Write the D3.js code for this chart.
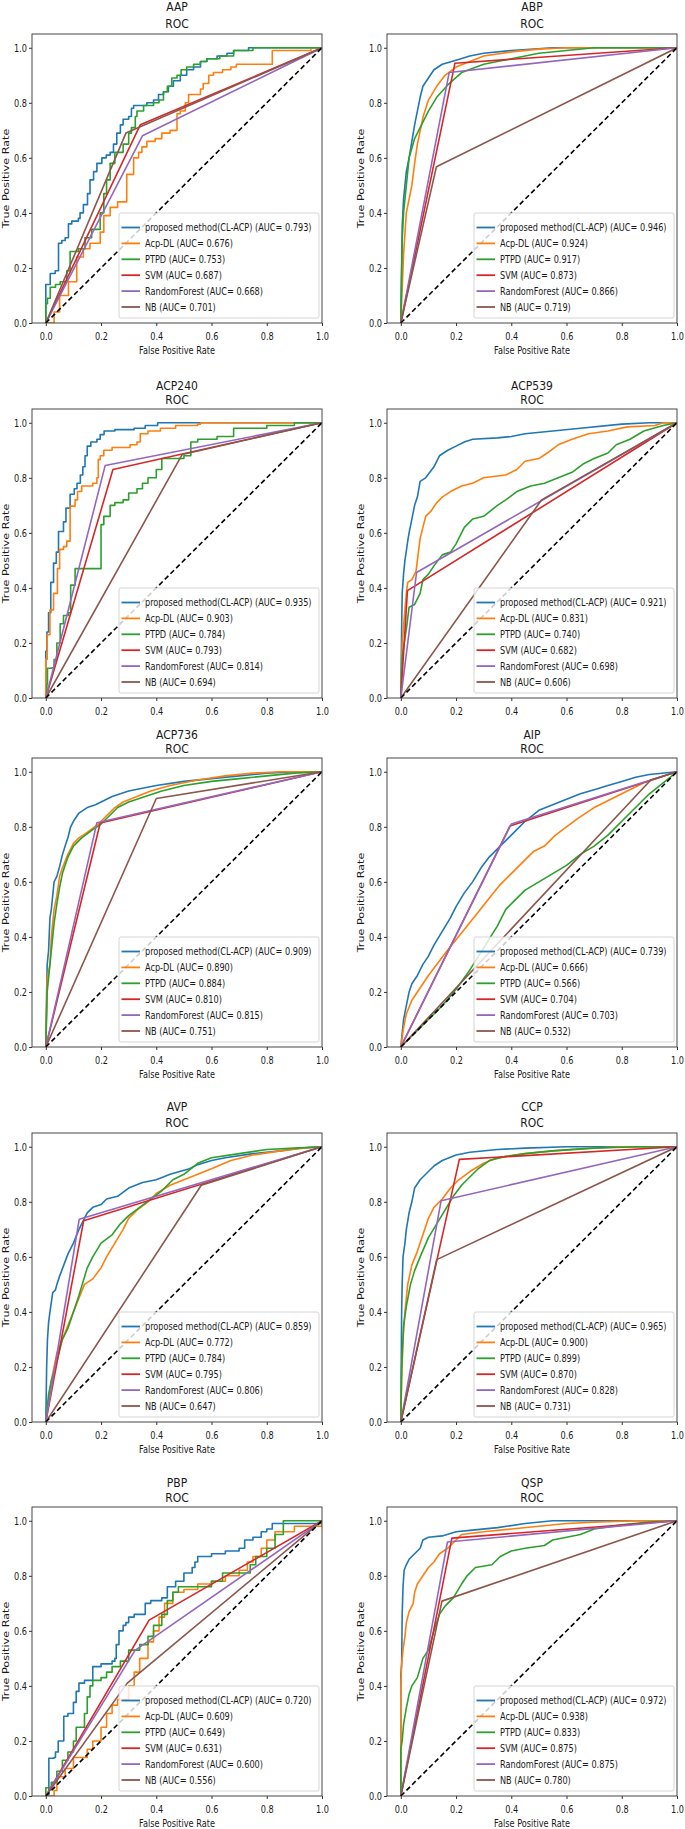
<!DOCTYPE html>
<html>
<head>
<meta charset="utf-8">
<script src="https://cdn.jsdelivr.net/npm/d3@7"></script>
<style>
  body { margin: 0; background: #fff; }
  svg text { font-family: "DejaVu Sans", sans-serif; fill: #1a1a1a; }
</style>
</head>
<body>
<div id="chart"></div>
<script>
// ROC curves of six methods on ten peptide datasets
const datasets = ["AAP", "ABP", "ACP240", "ACP539", "ACP736", "AIP", "AVP", "CCP", "PBP", "QSP"];
const methods = ["proposed method(CL-ACP)", "Acp-DL", "PTPD", "SVM", "RandomForest", "NB"];
const colors = ["#1f77b4", "#ff7f0e", "#2ca02c", "#d62728", "#9467bd", "#8c564b"];
const xTicks = [0, 0.2, 0.4, 0.6, 0.8, 1.0];
const yTicks = [0, 0.2, 0.4, 0.6, 0.8, 1.0];
// small datasets whose curves show a visible staircase
const stepSets = ["AAP", "ACP240", "PBP"];

const aucAAP = [0.793, 0.676, 0.753, 0.687, 0.668, 0.701];
const aucABP = [0.946, 0.924, 0.917, 0.873, 0.866, 0.719];
const aucACP240 = [0.935, 0.903, 0.784, 0.793, 0.814, 0.694];
const aucACP539 = [0.921, 0.831, 0.740, 0.682, 0.698, 0.606];
const aucACP736 = [0.909, 0.890, 0.884, 0.810, 0.815, 0.751];
const aucAIP = [0.739, 0.666, 0.566, 0.704, 0.703, 0.532];
const aucAVP = [0.859, 0.772, 0.784, 0.795, 0.806, 0.647];
const aucCCP = [0.965, 0.900, 0.899, 0.870, 0.828, 0.731];
const aucPBP = [0.720, 0.609, 0.649, 0.631, 0.600, 0.556];
const aucQSP = [0.972, 0.938, 0.833, 0.875, 0.875, 0.780];

// [fpr, tpr] points, one list per method (same order as `methods`)
const rocAAP = [
  [[0,0],[0,0.14],[0.016,0.18],[0.034,0.19],[0.046,0.29],[0.058,0.30],[0.07,0.31],[0.082,0.36],[0.094,0.37],[0.118,0.38],[0.124,0.40],[0.136,0.43],[0.151,0.47],[0.16,0.52],[0.173,0.55],[0.185,0.58],[0.203,0.60],[0.219,0.61],[0.233,0.62],[0.245,0.65],[0.257,0.69],[0.27,0.72],[0.28,0.74],[0.30,0.75],[0.31,0.78],[0.318,0.79],[0.366,0.80],[0.39,0.81],[0.408,0.83],[0.426,0.84],[0.444,0.86],[0.462,0.88],[0.487,0.90],[0.51,0.92],[0.535,0.93],[0.56,0.95],[0.583,0.96],[0.62,0.97],[0.656,0.98],[0.68,0.99],[0.734,1.0],[1,1]],
  [[0,0],[0.03,0],[0.03,0.04],[0.05,0.1],[0.082,0.15],[0.112,0.24],[0.136,0.27],[0.16,0.29],[0.197,0.33],[0.21,0.39],[0.233,0.42],[0.26,0.44],[0.293,0.54],[0.318,0.60],[0.336,0.62],[0.348,0.64],[0.366,0.66],[0.396,0.67],[0.42,0.69],[0.45,0.70],[0.475,0.76],[0.487,0.77],[0.505,0.80],[0.517,0.83],[0.56,0.85],[0.57,0.87],[0.59,0.90],[0.607,0.91],[0.64,0.92],[0.67,0.93],[0.69,0.94],[0.82,0.99],[0.96,0.99],[0.96,1.0],[1,1]],
  [[0,0],[0,0.07],[0.006,0.09],[0.016,0.13],[0.035,0.14],[0.052,0.15],[0.076,0.19],[0.088,0.26],[0.118,0.27],[0.142,0.31],[0.166,0.34],[0.197,0.40],[0.21,0.47],[0.22,0.52],[0.233,0.58],[0.25,0.62],[0.28,0.65],[0.30,0.69],[0.31,0.71],[0.324,0.75],[0.33,0.77],[0.354,0.79],[0.39,0.80],[0.41,0.81],[0.426,0.84],[0.44,0.86],[0.456,0.89],[0.475,0.90],[0.49,0.92],[0.51,0.93],[0.535,0.94],[0.56,0.95],[0.583,0.96],[0.63,0.97],[0.68,0.99],[0.75,1.0],[1,1]],
  [[0,0],[0.342,0.72],[1,1]],
  [[0,0],[0.35,0.68],[1,1]],
  [[0,0],[0.29,0.69],[1,1]]
];
const rocABP = [
  [[0,0],[0.005,0.35],[0.01,0.45],[0.02,0.55],[0.03,0.6],[0.04,0.66],[0.05,0.72],[0.06,0.77],[0.07,0.82],[0.08,0.86],[0.1,0.89],[0.12,0.92],[0.15,0.94],[0.2,0.955],[0.25,0.97],[0.3,0.98],[0.4,0.99],[0.55,1.0],[1,1]],
  [[0,0],[0.01,0.25],[0.02,0.4],[0.04,0.5],[0.05,0.58],[0.06,0.65],[0.081,0.75],[0.1,0.81],[0.13,0.86],[0.16,0.9],[0.2,0.93],[0.25,0.95],[0.3,0.97],[0.4,0.985],[0.5,0.995],[0.6,1.0],[1,1]],
  [[0,0],[0.005,0.3],[0.01,0.4],[0.02,0.5],[0.03,0.6],[0.05,0.67],[0.07,0.71],[0.1,0.77],[0.13,0.82],[0.17,0.865],[0.22,0.91],[0.3,0.94],[0.4,0.96],[0.5,0.98],[0.6,0.99],[0.7,1.0],[1,1]],
  [[0,0],[0.196,0.944],[1,1]],
  [[0,0],[0.175,0.91],[1,1]],
  [[0,0],[0.129,0.568],[1,1]]
];
const rocACP240 = [
  [[0,0],[0,0.17],[0.004,0.24],[0.01,0.31],[0.018,0.42],[0.028,0.49],[0.038,0.53],[0.046,0.605],[0.064,0.64],[0.073,0.69],[0.088,0.74],[0.103,0.76],[0.113,0.78],[0.125,0.81],[0.134,0.84],[0.142,0.88],[0.15,0.915],[0.163,0.93],[0.185,0.94],[0.197,0.957],[0.211,0.97],[0.25,0.975],[0.32,0.98],[0.36,0.99],[0.405,1.0],[1,1]],
  [[0,0],[0,0.14],[0.005,0.23],[0.015,0.32],[0.028,0.38],[0.042,0.47],[0.05,0.54],[0.064,0.55],[0.076,0.57],[0.088,0.697],[0.106,0.72],[0.115,0.75],[0.13,0.77],[0.17,0.78],[0.185,0.80],[0.19,0.866],[0.197,0.88],[0.21,0.90],[0.24,0.91],[0.305,0.92],[0.33,0.93],[0.342,0.96],[0.37,0.97],[0.415,0.98],[0.47,0.99],[0.55,0.995],[0.56,1.0],[1,1]],
  [[0,0],[0.004,0.05],[0.006,0.108],[0.022,0.11],[0.03,0.14],[0.04,0.2],[0.052,0.27],[0.064,0.30],[0.082,0.31],[0.09,0.41],[0.106,0.47],[0.2,0.49],[0.2,0.63],[0.21,0.66],[0.233,0.70],[0.25,0.71],[0.28,0.72],[0.3,0.745],[0.33,0.76],[0.35,0.78],[0.37,0.80],[0.4,0.83],[0.42,0.87],[0.5,0.88],[0.525,0.93],[0.55,0.94],[0.62,0.95],[0.68,0.98],[0.8,0.99],[0.9,1.0],[1,1]],
  [[0,0],[0.243,0.83],[1,1]],
  [[0,0],[0.215,0.845],[1,1]],
  [[0,0],[0.494,0.885],[1,1]]
];
const rocACP539 = [
  [[0,0],[0.003,0.25],[0.005,0.38],[0.01,0.45],[0.015,0.5],[0.025,0.57],[0.03,0.6],[0.04,0.65],[0.05,0.7],[0.06,0.73],[0.07,0.787],[0.09,0.8],[0.12,0.84],[0.14,0.88],[0.17,0.9],[0.2,0.915],[0.23,0.93],[0.26,0.94],[0.35,0.945],[0.4,0.95],[0.45,0.96],[0.55,0.97],[0.65,0.98],[0.8,0.995],[0.9,1.0],[1,1]],
  [[0,0],[0.005,0.2],[0.02,0.38],[0.025,0.42],[0.04,0.43],[0.055,0.46],[0.06,0.5],[0.07,0.58],[0.08,0.62],[0.09,0.66],[0.11,0.68],[0.13,0.71],[0.15,0.73],[0.18,0.75],[0.22,0.77],[0.26,0.78],[0.3,0.8],[0.38,0.81],[0.42,0.83],[0.45,0.86],[0.5,0.87],[0.53,0.89],[0.57,0.92],[0.62,0.94],[0.68,0.96],[0.75,0.97],[0.82,0.985],[0.92,0.99],[0.95,1.0],[1,1]],
  [[0,0],[0.005,0.15],[0.02,0.25],[0.03,0.33],[0.05,0.34],[0.07,0.38],[0.08,0.43],[0.1,0.45],[0.12,0.48],[0.15,0.52],[0.18,0.53],[0.2,0.56],[0.23,0.62],[0.26,0.65],[0.3,0.66],[0.35,0.7],[0.38,0.72],[0.42,0.75],[0.47,0.77],[0.52,0.78],[0.57,0.8],[0.62,0.82],[0.66,0.85],[0.7,0.87],[0.75,0.89],[0.78,0.92],[0.83,0.94],[0.88,0.97],[0.95,0.99],[1,1]],
  [[0,0],[0.024,0.39],[1,1]],
  [[0,0],[0.057,0.456],[1,1]],
  [[0,0],[0.51,0.72],[1,1]]
];
const rocACP736 = [
  [[0,0],[0.003,0.2],[0.005,0.3],[0.01,0.35],[0.015,0.47],[0.02,0.5],[0.03,0.6],[0.04,0.62],[0.05,0.656],[0.06,0.698],[0.07,0.73],[0.08,0.76],[0.09,0.8],[0.1,0.82],[0.12,0.85],[0.15,0.87],[0.18,0.88],[0.2,0.89],[0.24,0.91],[0.3,0.93],[0.35,0.94],[0.4,0.95],[0.5,0.965],[0.6,0.975],[0.7,0.985],[0.8,0.995],[0.9,1.0],[1,1]],
  [[0,0],[0.005,0.25],[0.015,0.3],[0.02,0.4],[0.03,0.5],[0.04,0.55],[0.05,0.62],[0.06,0.65],[0.08,0.7],[0.1,0.74],[0.12,0.76],[0.15,0.78],[0.19,0.81],[0.22,0.84],[0.25,0.87],[0.28,0.89],[0.33,0.91],[0.38,0.93],[0.45,0.95],[0.55,0.97],[0.65,0.985],[0.75,0.995],[0.85,1.0],[1,1]],
  [[0,0],[0.005,0.2],[0.01,0.25],[0.02,0.35],[0.03,0.45],[0.04,0.52],[0.05,0.58],[0.06,0.63],[0.08,0.69],[0.1,0.73],[0.13,0.76],[0.17,0.79],[0.2,0.81],[0.23,0.84],[0.26,0.87],[0.3,0.89],[0.36,0.91],[0.42,0.93],[0.5,0.95],[0.6,0.965],[0.7,0.975],[0.8,0.985],[0.9,0.995],[1,1]],
  [[0,0],[0.197,0.814],[1,1]],
  [[0,0],[0.185,0.815],[1,1]],
  [[0,0],[0.4,0.903],[1,1]]
];
const rocAIP = [
  [[0,0],[0.005,0.05],[0.01,0.1],[0.02,0.15],[0.03,0.2],[0.04,0.23],[0.06,0.26],[0.08,0.3],[0.1,0.33],[0.12,0.37],[0.15,0.42],[0.18,0.47],[0.2,0.51],[0.23,0.56],[0.26,0.6],[0.29,0.65],[0.32,0.69],[0.36,0.73],[0.39,0.76],[0.42,0.79],[0.45,0.82],[0.5,0.86],[0.55,0.88],[0.6,0.9],[0.65,0.92],[0.7,0.935],[0.75,0.95],[0.8,0.965],[0.85,0.98],[0.9,0.99],[1,1]],
  [[0,0],[0.01,0.07],[0.02,0.12],[0.04,0.17],[0.06,0.2],[0.08,0.23],[0.1,0.26],[0.13,0.3],[0.16,0.34],[0.2,0.39],[0.24,0.44],[0.28,0.49],[0.32,0.54],[0.36,0.59],[0.4,0.63],[0.44,0.67],[0.48,0.71],[0.52,0.73],[0.56,0.77],[0.6,0.8],[0.64,0.83],[0.7,0.87],[0.76,0.9],[0.82,0.93],[0.88,0.96],[0.94,0.98],[1,1]],
  [[0,0],[0.05,0.05],[0.1,0.1],[0.15,0.15],[0.2,0.21],[0.25,0.28],[0.3,0.36],[0.35,0.44],[0.38,0.5],[0.42,0.54],[0.45,0.57],[0.5,0.6],[0.55,0.63],[0.6,0.66],[0.65,0.7],[0.7,0.73],[0.75,0.77],[0.8,0.82],[0.85,0.87],[0.9,0.92],[0.95,0.96],[1,1]],
  [[0,0],[0.395,0.803],[1,1]],
  [[0,0],[0.4,0.81],[1,1]],
  [[0,0],[0.905,0.97],[1,1]]
];
const rocAVP = [
  [[0,0],[0.003,0.2],[0.006,0.3],[0.01,0.36],[0.015,0.4],[0.025,0.47],[0.035,0.48],[0.04,0.5],[0.05,0.53],[0.065,0.57],[0.08,0.61],[0.1,0.65],[0.12,0.7],[0.15,0.76],[0.17,0.78],[0.2,0.79],[0.22,0.81],[0.26,0.82],[0.3,0.85],[0.35,0.87],[0.4,0.88],[0.45,0.9],[0.52,0.92],[0.55,0.935],[0.6,0.95],[0.65,0.96],[0.75,0.975],[0.85,0.985],[0.92,0.995],[1,1]],
  [[0,0],[0.01,0.08],[0.02,0.15],[0.04,0.25],[0.06,0.3],[0.08,0.35],[0.1,0.4],[0.12,0.45],[0.14,0.5],[0.17,0.52],[0.2,0.56],[0.22,0.6],[0.25,0.65],[0.28,0.7],[0.3,0.74],[0.33,0.77],[0.37,0.8],[0.4,0.83],[0.45,0.86],[0.5,0.88],[0.55,0.9],[0.6,0.92],[0.67,0.95],[0.75,0.97],[0.85,0.985],[0.93,0.995],[1,1]],
  [[0,0],[0.01,0.1],[0.02,0.15],[0.04,0.22],[0.06,0.3],[0.08,0.34],[0.1,0.4],[0.12,0.46],[0.15,0.56],[0.17,0.6],[0.2,0.65],[0.24,0.68],[0.27,0.72],[0.3,0.75],[0.34,0.78],[0.38,0.81],[0.42,0.84],[0.46,0.88],[0.5,0.9],[0.55,0.94],[0.6,0.96],[0.7,0.975],[0.8,0.99],[0.9,0.995],[1,1]],
  [[0,0],[0.137,0.731],[1,1]],
  [[0,0],[0.121,0.737],[1,1]],
  [[0,0],[0.563,0.86],[1,1]]
];
const rocCCP = [
  [[0,0],[0.003,0.4],[0.005,0.5],[0.008,0.6],[0.015,0.65],[0.02,0.7],[0.03,0.76],[0.04,0.8],[0.05,0.85],[0.07,0.88],[0.09,0.9],[0.12,0.93],[0.15,0.95],[0.2,0.97],[0.25,0.98],[0.35,0.99],[0.45,0.995],[0.6,1.0],[1,1]],
  [[0,0],[0.003,0.15],[0.008,0.3],[0.015,0.4],[0.025,0.5],[0.04,0.57],[0.06,0.62],[0.08,0.68],[0.1,0.74],[0.12,0.78],[0.15,0.81],[0.18,0.85],[0.21,0.88],[0.25,0.91],[0.3,0.94],[0.35,0.96],[0.45,0.975],[0.55,0.985],[0.65,0.993],[0.8,1.0],[1,1]],
  [[0,0],[0.003,0.2],[0.01,0.35],[0.02,0.42],[0.035,0.5],[0.05,0.55],[0.07,0.6],[0.1,0.67],[0.13,0.72],[0.16,0.77],[0.19,0.82],[0.22,0.86],[0.25,0.89],[0.28,0.92],[0.32,0.95],[0.38,0.965],[0.45,0.975],[0.55,0.985],[0.7,0.995],[0.85,1.0],[1,1]],
  [[0,0],[0.212,0.954],[1,1]],
  [[0,0],[0.146,0.804],[1,1]],
  [[0,0],[0.13,0.59],[1,1]]
];
const rocPBP = [
  [[0,0],[0.011,0.137],[0.03,0.14],[0.035,0.16],[0.045,0.2],[0.065,0.29],[0.08,0.3],[0.1,0.34],[0.11,0.38],[0.12,0.41],[0.14,0.42],[0.17,0.47],[0.2,0.48],[0.24,0.49],[0.25,0.5],[0.255,0.55],[0.265,0.6],[0.28,0.62],[0.29,0.63],[0.3,0.65],[0.32,0.66],[0.36,0.7],[0.38,0.71],[0.42,0.72],[0.44,0.76],[0.47,0.78],[0.5,0.81],[0.53,0.83],[0.54,0.85],[0.55,0.87],[0.6,0.88],[0.65,0.89],[0.7,0.9],[0.72,0.93],[0.75,0.94],[0.78,0.96],[0.8,0.97],[0.82,0.99],[0.94,0.99],[1,1]],
  [[0,0],[0.03,0.02],[0.04,0.07],[0.07,0.1],[0.1,0.14],[0.14,0.14],[0.15,0.17],[0.17,0.2],[0.2,0.25],[0.22,0.3],[0.24,0.33],[0.26,0.35],[0.3,0.4],[0.32,0.45],[0.34,0.5],[0.37,0.56],[0.39,0.6],[0.41,0.65],[0.43,0.7],[0.46,0.74],[0.5,0.75],[0.55,0.77],[0.6,0.78],[0.65,0.8],[0.7,0.82],[0.73,0.85],[0.75,0.87],[0.78,0.9],[0.8,0.93],[0.83,0.96],[0.9,0.98],[1,1]],
  [[0,0],[0,0.03],[0.02,0.05],[0.04,0.09],[0.06,0.13],[0.08,0.16],[0.1,0.2],[0.11,0.25],[0.14,0.3],[0.15,0.36],[0.16,0.4],[0.17,0.42],[0.2,0.43],[0.22,0.45],[0.24,0.47],[0.27,0.49],[0.3,0.53],[0.34,0.55],[0.37,0.58],[0.39,0.62],[0.42,0.66],[0.44,0.71],[0.46,0.74],[0.48,0.76],[0.6,0.78],[0.64,0.81],[0.74,0.84],[0.76,0.87],[0.8,0.9],[0.83,0.95],[0.86,1.0],[1,1]],
  [[0,0],[0.374,0.639],[1,1]],
  [[0,0],[0.323,0.529],[1,1]],
  [[0,0],[0.295,0.41],[1,1]]
];
const rocQSP = [
  [[0,0],[0,0.44],[0.003,0.48],[0.005,0.66],[0.008,0.76],[0.012,0.82],[0.02,0.84],[0.03,0.86],[0.05,0.88],[0.07,0.9],[0.08,0.93],[0.1,0.94],[0.15,0.945],[0.2,0.96],[0.25,0.965],[0.35,0.975],[0.45,0.99],[0.55,1.0],[1,1]],
  [[0,0],[0,0.4],[0.003,0.48],[0.008,0.53],[0.015,0.58],[0.02,0.63],[0.03,0.67],[0.045,0.7],[0.05,0.74],[0.06,0.77],[0.08,0.8],[0.1,0.83],[0.12,0.85],[0.14,0.88],[0.17,0.9],[0.2,0.93],[0.22,0.95],[0.3,0.96],[0.4,0.97],[0.5,0.98],[0.6,0.99],[0.7,0.995],[0.85,1.0],[1,1]],
  [[0,0],[0,0.17],[0.005,0.2],[0.01,0.26],[0.02,0.32],[0.03,0.37],[0.04,0.4],[0.06,0.43],[0.08,0.5],[0.1,0.53],[0.12,0.6],[0.14,0.66],[0.16,0.69],[0.19,0.72],[0.22,0.77],[0.24,0.8],[0.27,0.83],[0.33,0.84],[0.36,0.87],[0.4,0.89],[0.45,0.9],[0.52,0.91],[0.55,0.93],[0.6,0.94],[0.65,0.95],[0.7,0.97],[0.8,0.985],[0.9,0.995],[1,1]],
  [[0,0],[0.185,0.937],[1,1]],
  [[0,0],[0.169,0.923],[1,1]],
  [[0,0],[0.149,0.708],[1,1]]
];

const rocs = [rocAAP, rocABP, rocACP240, rocACP539, rocACP736, rocAIP, rocAVP, rocCCP, rocPBP, rocQSP];
const aucs = [aucAAP, aucABP, aucACP240, aucACP539, aucACP736, aucAIP, aucAVP, aucCCP, aucPBP, aucQSP];

// layout of the stitched 2 x 5 grid
const SX = 0.73;                 // the original figures were squeezed horizontally
const TITLE_SX = 0.9;
const FONT = 11.2;
const TITLE_FONT = 12;
const rowY0 = [323, 698, 1047, 1422, 1796];
const rowTitleY = [[6.7, 23.8], [385.4, 399.6], [734.6, 748.8], [1107, 1122.8], [1483, 1497.3]];
const rowXLabel = [true, false, true, true, true];   // second row was cropped without its x label
const colLeft = [32, 387];
const plotW = 290, plotH = 289;

const svg = d3.select("#chart").append("svg")
    .attr("width", 685)
    .attr("height", 1829);

function squeezed(g, x, y, str, size, anchor, sx) {
    return g.append("text")
        .attr("transform", `translate(${x},${y}) scale(${sx || SX},1)`)
        .attr("text-anchor", anchor || "middle")
        .attr("dominant-baseline", "central")
        .style("font-size", size + "px")
        .text(str);
}

datasets.forEach((name, i) => {
    const row = Math.floor(i / 2), col = i % 2;
    const left = colLeft[col], y0 = rowY0[row], top = y0 - plotH;

    const x = d3.scaleLinear().domain([-0.05, 1.0]).range([left, left + plotW]);
    const y = d3.scaleLinear().domain([0, 1.05]).range([y0, top]);
    const g = svg.append("g");

    // two-line title
    squeezed(g, left + plotW / 2, rowTitleY[row][0], name, TITLE_FONT, "middle", TITLE_SX);
    squeezed(g, left + plotW / 2, rowTitleY[row][1], "ROC", TITLE_FONT, "middle", TITLE_SX);

    const clipId = "clip" + i;
    g.append("clipPath").attr("id", clipId)
        .append("rect").attr("x", left).attr("y", top).attr("width", plotW).attr("height", plotH);
    const plot = g.append("g").attr("clip-path", `url(#${clipId})`);

    const step = stepSets.includes(name);
    rocs[i].forEach((pts, k) => {
        const line = d3.line()
            .x(d => x(d[0]))
            .y(d => y(d[1]))
            .curve(step && k < 3 ? d3.curveStepAfter : d3.curveLinear);
        plot.append("path")
            .datum(pts)
            .attr("d", line)
            .attr("fill", "none")
            .attr("stroke", colors[k])
            .attr("stroke-width", 1.6)
            .attr("stroke-linejoin", "round");
    });

    // chance line
    plot.append("line")
        .attr("x1", x(0)).attr("y1", y(0))
        .attr("x2", x(1)).attr("y2", y(1))
        .attr("stroke", "#000")
        .attr("stroke-width", 1.6)
        .attr("stroke-dasharray", "5,3");

    // axes
    const xa = g.append("g")
        .attr("transform", `translate(0,${y0})`)
        .call(d3.axisBottom(x).tickValues(xTicks).tickFormat(d3.format(".1f")).tickSize(3).tickSizeOuter(0));
    xa.select(".domain").remove();
    xa.selectAll("line").attr("stroke", "#333");
    xa.selectAll("text")
        .attr("transform", `scale(${SX},1)`)
        .attr("y", 13).attr("dy", null)
        .attr("dominant-baseline", "central")
        .attr("fill", "#1a1a1a")
        .style("font-size", FONT + "px");

    const ya = g.append("g")
        .attr("transform", `translate(${left},0)`)
        .call(d3.axisLeft(y).tickValues(yTicks).tickFormat(d3.format(".1f")).tickSize(3).tickSizeOuter(0));
    ya.select(".domain").remove();
    ya.selectAll("line").attr("stroke", "#333");
    ya.selectAll("text")
        .attr("transform", `scale(${SX},1)`)
        .attr("x", -5 / SX).attr("dy", null)
        .attr("dominant-baseline", "central")
        .attr("fill", "#1a1a1a")
        .style("font-size", FONT + "px");

    // axis labels
    if (rowXLabel[row]) {
        squeezed(g, left + plotW / 2, y0 + 27, "False Positive Rate", FONT);
    }
    g.append("text")
        .attr("transform", `translate(${left - 26},${top + plotH / 2}) rotate(-90) scale(1,${SX})`)
        .attr("text-anchor", "middle")
        .attr("dominant-baseline", "central")
        .style("font-size", FONT + "px")
        .text("True Positive Rate");

    // frame
    g.append("rect")
        .attr("x", left).attr("y", top)
        .attr("width", plotW).attr("height", plotH)
        .attr("fill", "none")
        .attr("stroke", "#333")
        .attr("stroke-width", 0.9);

    // legend, lower right
    const lw = 200, lh = 105;
    const lx = left + plotW - 3 - lw, ly = y0 - 5 - lh;
    const leg = g.append("g");
    leg.append("rect")
        .attr("x", lx).attr("y", ly)
        .attr("width", lw).attr("height", lh)
        .attr("rx", 2)
        .attr("fill", "#fff").attr("fill-opacity", 0.8)
        .attr("stroke", "#d0d0d0").attr("stroke-width", 0.9);
    methods.forEach((m, k) => {
        const ry = y0 - 95.5 + k * 15.9;
        leg.append("line")
            .attr("x1", lx + 2.5).attr("x2", lx + 21)
            .attr("y1", ry).attr("y2", ry)
            .attr("stroke", colors[k]).attr("stroke-width", 1.8);
        squeezed(leg, lx + 26, ry, `${m} (AUC= ${aucs[i][k].toFixed(3)})`, FONT, "start")
            .attr("fill", "#1a1a1a");
    });
});
</script>
</body>
</html>
